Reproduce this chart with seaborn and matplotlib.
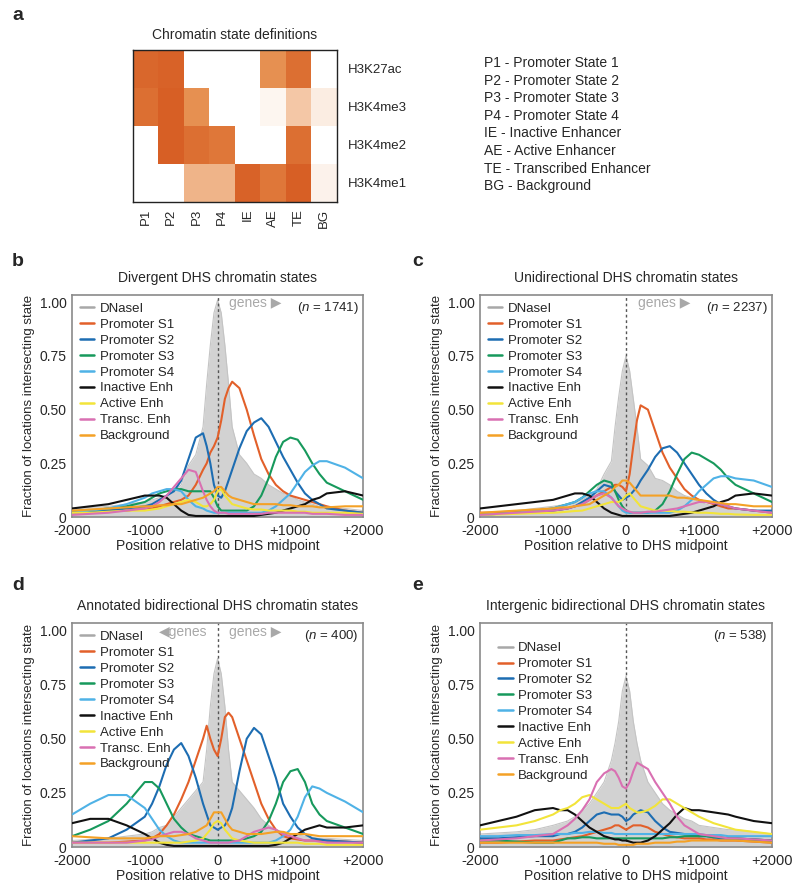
import matplotlib
matplotlib.use("Agg")
import matplotlib.pyplot as plt
import pandas as pd
import seaborn as sns
from matplotlib.colors import LinearSegmentedColormap
from matplotlib.lines import Line2D

# ---- panel a: chromatin state definitions ----
MARKS = ["H3K27ac", "H3K4me3", "H3K4me2", "H3K4me1"]
STATE_CODES = ["P1", "P2", "P3", "P4", "IE", "AE", "TE", "BG"]
STATE_DEFS = [
    "P1 - Promoter State 1",
    "P2 - Promoter State 2",
    "P3 - Promoter State 3",
    "P4 - Promoter State 4",
    "IE - Inactive Enhancer",
    "AE - Active Enhancer",
    "TE - Transcribed Enhancer",
    "BG - Background",
]
H3K27AC = [0.85, 0.88, 0.0, 0.0, 0.0, 0.6, 0.8, 0.0]
H3K4ME3 = [0.8, 0.9, 0.6, 0.0, 0.0, 0.05, 0.3, 0.1]
H3K4ME2 = [0.0, 0.9, 0.8, 0.75, 0.0, 0.0, 0.8, 0.0]
H3K4ME1 = [0.0, 0.0, 0.4, 0.4, 0.88, 0.75, 0.9, 0.07]

# ---- profile panels ----
POSITIONS = [-2000, -1750, -1500, -1250, -1000, -900, -800, -700, -600, -500,
             -400, -300, -200, -150, -100, -50, 0, 50, 100, 150,
             200, 300, 400, 500, 600, 700, 800, 900, 1000, 1100,
             1200, 1300, 1400, 1500, 1750, 2000]
SERIES = ["DNaseI", "Promoter S1", "Promoter S2", "Promoter S3", "Promoter S4",
          "Inactive Enh", "Active Enh", "Transc. Enh", "Background"]
X_TICK_LABELS = ["-2000", "-1000", "0", "+1000", "+2000"]
Y_TICK_LABELS = ["0", "0.25", "0.50", "0.75", "1.00"]

# b - divergent
B_DNASE = [0.04, 0.045, 0.05, 0.06, 0.07, 0.08, 0.09, 0.10, 0.12, 0.15, 0.24, 0.29, 0.42, 0.62, 0.8, 0.95, 1.01, 0.95, 0.8, 0.62,
           0.42, 0.29, 0.25, 0.2, 0.18, 0.15, 0.13, 0.11, 0.1, 0.08, 0.07, 0.06, 0.05, 0.045, 0.04, 0.03]
B_S1 = [0.02, 0.025, 0.03, 0.03, 0.04, 0.04, 0.05, 0.06, 0.07, 0.08, 0.1, 0.15, 0.22, 0.25, 0.3, 0.33, 0.37, 0.45, 0.55, 0.6,
        0.63, 0.6, 0.5, 0.38, 0.27, 0.2, 0.15, 0.12, 0.1, 0.09, 0.08, 0.07, 0.06, 0.05, 0.03, 0.02]
B_S2 = [0.02, 0.025, 0.03, 0.04, 0.05, 0.06, 0.08, 0.1, 0.12, 0.17, 0.27, 0.37, 0.39, 0.33, 0.25, 0.15, 0.1, 0.09, 0.12, 0.17,
        0.22, 0.32, 0.4, 0.44, 0.46, 0.42, 0.35, 0.28, 0.22, 0.16, 0.11, 0.08, 0.06, 0.04, 0.03, 0.02]
B_S3 = [0.02, 0.03, 0.04, 0.05, 0.07, 0.09, 0.11, 0.12, 0.13, 0.13, 0.12, 0.12, 0.12, 0.12, 0.12, 0.09, 0.05, 0.03, 0.03, 0.03,
        0.03, 0.03, 0.03, 0.05, 0.1, 0.18, 0.28, 0.35, 0.37, 0.36, 0.31, 0.25, 0.2, 0.16, 0.12, 0.08]
B_S4 = [0.02, 0.03, 0.04, 0.06, 0.09, 0.11, 0.12, 0.13, 0.13, 0.12, 0.08, 0.05, 0.04, 0.03, 0.025, 0.02, 0.02, 0.02, 0.02, 0.02,
        0.02, 0.02, 0.02, 0.02, 0.02, 0.03, 0.05, 0.08, 0.11, 0.16, 0.21, 0.24, 0.26, 0.26, 0.23, 0.18]
B_INACT = [0.04, 0.05, 0.06, 0.08, 0.1, 0.1, 0.1, 0.09, 0.06, 0.03, 0.01, 0.005, 0.005, 0.005, 0.005, 0.005, 0.005, 0.005, 0.005, 0.005,
           0.005, 0.005, 0.005, 0.005, 0.01, 0.015, 0.02, 0.03, 0.04, 0.05, 0.06, 0.08, 0.09, 0.11, 0.12, 0.1]
B_ACT = [0.02, 0.02, 0.025, 0.03, 0.03, 0.035, 0.04, 0.05, 0.06, 0.07, 0.08, 0.07, 0.05, 0.05, 0.06, 0.08, 0.12, 0.13, 0.1, 0.08,
         0.06, 0.05, 0.04, 0.035, 0.035, 0.03, 0.03, 0.03, 0.03, 0.025, 0.025, 0.02, 0.02, 0.02, 0.02, 0.015]
B_TRANS = [0.01, 0.015, 0.02, 0.03, 0.04, 0.05, 0.07, 0.1, 0.14, 0.18, 0.22, 0.21, 0.12, 0.08, 0.05, 0.03, 0.02, 0.02, 0.02, 0.015,
           0.015, 0.015, 0.015, 0.015, 0.015, 0.02, 0.02, 0.02, 0.02, 0.02, 0.02, 0.015, 0.015, 0.015, 0.01, 0.01]
B_BG = [0.03, 0.035, 0.04, 0.045, 0.05, 0.05, 0.055, 0.055, 0.06, 0.06, 0.07, 0.08, 0.09, 0.1, 0.11, 0.12, 0.14, 0.14, 0.12, 0.1,
        0.09, 0.08, 0.07, 0.06, 0.06, 0.06, 0.06, 0.055, 0.055, 0.05, 0.05, 0.05, 0.045, 0.045, 0.05, 0.05]

# c - unidirectional
C_DNASE = [0.02, 0.025, 0.03, 0.04, 0.05, 0.055, 0.06, 0.07, 0.08, 0.1, 0.13, 0.2, 0.26, 0.42, 0.56, 0.68, 0.75, 0.68, 0.55, 0.42,
           0.27, 0.24, 0.18, 0.17, 0.15, 0.12, 0.1, 0.09, 0.07, 0.06, 0.05, 0.045, 0.04, 0.035, 0.03, 0.02]
C_S1 = [0.02, 0.02, 0.025, 0.03, 0.03, 0.035, 0.04, 0.05, 0.06, 0.08, 0.1, 0.12, 0.14, 0.15, 0.15, 0.14, 0.12, 0.2, 0.33, 0.45,
        0.52, 0.5, 0.4, 0.3, 0.23, 0.18, 0.13, 0.1, 0.08, 0.07, 0.06, 0.05, 0.04, 0.04, 0.03, 0.02]
C_S2 = [0.01, 0.015, 0.02, 0.025, 0.03, 0.035, 0.04, 0.05, 0.07, 0.09, 0.12, 0.15, 0.14, 0.12, 0.1, 0.08, 0.09, 0.1, 0.12, 0.14,
        0.17, 0.22, 0.28, 0.32, 0.33, 0.3, 0.25, 0.2, 0.15, 0.11, 0.08, 0.06, 0.05, 0.04, 0.03, 0.03]
C_S3 = [0.01, 0.015, 0.02, 0.03, 0.04, 0.05, 0.06, 0.07, 0.09, 0.12, 0.15, 0.17, 0.16, 0.12, 0.08, 0.05, 0.03, 0.02, 0.02, 0.02,
        0.02, 0.02, 0.03, 0.06, 0.12, 0.2, 0.27, 0.3, 0.29, 0.27, 0.25, 0.22, 0.18, 0.15, 0.11, 0.07]
C_S4 = [0.01, 0.015, 0.02, 0.03, 0.04, 0.05, 0.06, 0.07, 0.09, 0.11, 0.12, 0.12, 0.09, 0.07, 0.05, 0.03, 0.02, 0.02, 0.02, 0.02,
        0.02, 0.02, 0.02, 0.02, 0.02, 0.03, 0.05, 0.08, 0.12, 0.15, 0.18, 0.19, 0.19, 0.18, 0.17, 0.14]
C_INACT = [0.04, 0.05, 0.06, 0.07, 0.08, 0.09, 0.1, 0.11, 0.11, 0.1, 0.07, 0.04, 0.02, 0.015, 0.01, 0.005, 0.005, 0.005, 0.005, 0.005,
           0.005, 0.005, 0.005, 0.005, 0.005, 0.01, 0.015, 0.02, 0.03, 0.04, 0.05, 0.07, 0.08, 0.1, 0.11, 0.1]
C_ACT = [0.01, 0.012, 0.015, 0.018, 0.02, 0.022, 0.025, 0.028, 0.03, 0.04, 0.05, 0.06, 0.07, 0.07, 0.07, 0.08, 0.1, 0.11, 0.09, 0.07,
         0.05, 0.04, 0.03, 0.03, 0.028, 0.025, 0.025, 0.022, 0.02, 0.02, 0.018, 0.015, 0.015, 0.012, 0.01, 0.01]
C_TRANS = [0.01, 0.015, 0.02, 0.025, 0.03, 0.035, 0.04, 0.05, 0.06, 0.08, 0.1, 0.11, 0.09, 0.07, 0.05, 0.04, 0.03, 0.025, 0.02, 0.02,
           0.02, 0.025, 0.025, 0.03, 0.035, 0.04, 0.05, 0.06, 0.07, 0.07, 0.065, 0.06, 0.05, 0.04, 0.03, 0.02]
C_BG = [0.02, 0.025, 0.03, 0.035, 0.04, 0.045, 0.045, 0.05, 0.055, 0.06, 0.08, 0.1, 0.12, 0.14, 0.15, 0.17, 0.17, 0.16, 0.14, 0.12,
        0.1, 0.1, 0.1, 0.1, 0.1, 0.09, 0.09, 0.085, 0.08, 0.075, 0.07, 0.065, 0.06, 0.06, 0.05, 0.05]

# d - annotated bidirectional
D_DNASE = [0.03, 0.035, 0.04, 0.05, 0.06, 0.07, 0.09, 0.1, 0.14, 0.18, 0.22, 0.26, 0.3, 0.45, 0.65, 0.8, 0.87, 0.8, 0.65, 0.45,
           0.3, 0.26, 0.22, 0.18, 0.13, 0.1, 0.08, 0.07, 0.06, 0.055, 0.05, 0.045, 0.04, 0.04, 0.035, 0.03]
D_S1 = [0.02, 0.02, 0.02, 0.025, 0.03, 0.04, 0.06, 0.1, 0.15, 0.22, 0.3, 0.4, 0.5, 0.56, 0.5, 0.45, 0.42, 0.5, 0.6, 0.62,
        0.6, 0.5, 0.4, 0.3, 0.2, 0.13, 0.08, 0.05, 0.04, 0.035, 0.03, 0.03, 0.03, 0.03, 0.025, 0.02]
D_S2 = [0.02, 0.03, 0.04, 0.08, 0.14, 0.2, 0.28, 0.38, 0.45, 0.48, 0.42, 0.32, 0.2, 0.15, 0.1, 0.09, 0.08, 0.09, 0.1, 0.13,
        0.18, 0.35, 0.5, 0.55, 0.52, 0.42, 0.32, 0.2, 0.14, 0.09, 0.06, 0.04, 0.035, 0.03, 0.025, 0.02]
D_S3 = [0.05, 0.08, 0.12, 0.2, 0.3, 0.3, 0.27, 0.2, 0.13, 0.09, 0.06, 0.05, 0.04, 0.035, 0.03, 0.03, 0.03, 0.03, 0.03, 0.03,
        0.03, 0.03, 0.04, 0.05, 0.07, 0.12, 0.2, 0.3, 0.35, 0.36, 0.3, 0.2, 0.15, 0.12, 0.09, 0.06]
D_S4 = [0.15, 0.2, 0.24, 0.24, 0.18, 0.13, 0.08, 0.05, 0.03, 0.02, 0.02, 0.02, 0.02, 0.02, 0.02, 0.02, 0.02, 0.02, 0.02, 0.02,
        0.02, 0.02, 0.02, 0.02, 0.02, 0.02, 0.03, 0.05, 0.08, 0.14, 0.23, 0.28, 0.27, 0.25, 0.21, 0.16]
D_INACT = [0.11, 0.13, 0.13, 0.1, 0.06, 0.04, 0.02, 0.01, 0.005, 0.005, 0.005, 0.005, 0.005, 0.005, 0.005, 0.005, 0.005, 0.005, 0.005, 0.005,
           0.005, 0.005, 0.005, 0.005, 0.005, 0.005, 0.01, 0.02, 0.04, 0.06, 0.08, 0.09, 0.1, 0.09, 0.09, 0.1]
D_ACT = [0.02, 0.02, 0.02, 0.02, 0.02, 0.02, 0.02, 0.02, 0.02, 0.02, 0.025, 0.03, 0.04, 0.06, 0.08, 0.11, 0.12, 0.11, 0.08, 0.06,
         0.04, 0.03, 0.025, 0.02, 0.02, 0.02, 0.02, 0.02, 0.02, 0.02, 0.015, 0.015, 0.015, 0.01, 0.01, 0.01]
D_TRANS = [0.02, 0.02, 0.02, 0.02, 0.03, 0.035, 0.05, 0.06, 0.07, 0.07, 0.06, 0.04, 0.03, 0.025, 0.02, 0.02, 0.02, 0.02, 0.02, 0.02,
           0.025, 0.03, 0.05, 0.07, 0.08, 0.09, 0.08, 0.06, 0.05, 0.04, 0.03, 0.03, 0.025, 0.02, 0.02, 0.02]
D_BG = [0.05, 0.045, 0.04, 0.04, 0.04, 0.045, 0.05, 0.05, 0.05, 0.055, 0.06, 0.07, 0.09, 0.1, 0.13, 0.16, 0.16, 0.16, 0.13, 0.1,
        0.08, 0.07, 0.06, 0.06, 0.06, 0.065, 0.07, 0.07, 0.06, 0.06, 0.06, 0.055, 0.05, 0.05, 0.05, 0.05]

# e - intergenic bidirectional
E_DNASE = [0.06, 0.065, 0.07, 0.08, 0.1, 0.11, 0.12, 0.14, 0.17, 0.2, 0.25, 0.3, 0.4, 0.48, 0.58, 0.72, 0.79, 0.72, 0.58, 0.48,
           0.4, 0.3, 0.25, 0.2, 0.17, 0.15, 0.13, 0.12, 0.1, 0.095, 0.09, 0.085, 0.08, 0.08, 0.07, 0.06]
E_S1 = [0.02, 0.02, 0.025, 0.03, 0.03, 0.035, 0.04, 0.045, 0.05, 0.06, 0.07, 0.08, 0.09, 0.1, 0.1, 0.09, 0.08, 0.09, 0.1, 0.1,
        0.1, 0.09, 0.07, 0.06, 0.05, 0.045, 0.04, 0.04, 0.04, 0.035, 0.035, 0.03, 0.03, 0.03, 0.025, 0.02]
E_S2 = [0.04, 0.04, 0.045, 0.05, 0.05, 0.06, 0.06, 0.07, 0.09, 0.12, 0.15, 0.16, 0.15, 0.15, 0.15, 0.14, 0.12, 0.13, 0.15, 0.16,
        0.17, 0.16, 0.12, 0.09, 0.07, 0.065, 0.06, 0.055, 0.05, 0.05, 0.045, 0.04, 0.04, 0.04, 0.035, 0.03]
E_S3 = [0.03, 0.03, 0.025, 0.02, 0.02, 0.03, 0.04, 0.04, 0.045, 0.045, 0.04, 0.04, 0.04, 0.04, 0.04, 0.04, 0.04, 0.04, 0.04, 0.04,
        0.04, 0.04, 0.04, 0.04, 0.045, 0.045, 0.05, 0.05, 0.05, 0.05, 0.045, 0.045, 0.04, 0.04, 0.035, 0.03]
E_S4 = [0.05, 0.05, 0.055, 0.055, 0.06, 0.06, 0.06, 0.065, 0.065, 0.07, 0.07, 0.065, 0.065, 0.06, 0.06, 0.06, 0.06, 0.06, 0.06, 0.06,
        0.06, 0.06, 0.06, 0.06, 0.06, 0.06, 0.06, 0.06, 0.06, 0.055, 0.055, 0.055, 0.05, 0.05, 0.05, 0.05]
E_INACT = [0.1, 0.12, 0.14, 0.17, 0.18, 0.17, 0.17, 0.15, 0.12, 0.09, 0.07, 0.05, 0.04, 0.035, 0.035, 0.03, 0.03, 0.025, 0.02, 0.02,
           0.02, 0.03, 0.05, 0.08, 0.11, 0.15, 0.18, 0.17, 0.17, 0.165, 0.16, 0.155, 0.15, 0.14, 0.12, 0.11]
E_ACT = [0.08, 0.09, 0.1, 0.12, 0.15, 0.17, 0.18, 0.2, 0.23, 0.24, 0.22, 0.2, 0.18, 0.18, 0.18, 0.19, 0.2, 0.18, 0.17, 0.16,
         0.16, 0.17, 0.19, 0.22, 0.22, 0.2, 0.18, 0.16, 0.14, 0.125, 0.11, 0.1, 0.09, 0.08, 0.07, 0.06]
E_TRANS = [0.03, 0.035, 0.04, 0.05, 0.06, 0.08, 0.1, 0.13, 0.17, 0.22, 0.3, 0.34, 0.36, 0.35, 0.32, 0.28, 0.27, 0.3, 0.35, 0.39,
           0.38, 0.36, 0.3, 0.25, 0.2, 0.14, 0.1, 0.08, 0.06, 0.055, 0.05, 0.045, 0.04, 0.04, 0.035, 0.03]
E_BG = [0.02, 0.02, 0.02, 0.02, 0.02, 0.02, 0.02, 0.02, 0.02, 0.02, 0.02, 0.015, 0.015, 0.015, 0.01, 0.01, 0.01, 0.01, 0.01, 0.015,
        0.015, 0.015, 0.02, 0.02, 0.02, 0.025, 0.025, 0.03, 0.03, 0.03, 0.03, 0.03, 0.03, 0.03, 0.025, 0.02]

COLORS = {
    "DNaseI": "#c4c4c4",
    "Promoter S1": "#e2602a",
    "Promoter S2": "#1d6db2",
    "Promoter S3": "#17995c",
    "Promoter S4": "#4fb2e6",
    "Inactive Enh": "#111111",
    "Active Enh": "#f2e43a",
    "Transc. Enh": "#d970b2",
    "Background": "#f4a126",
}
LEGEND_COLORS = dict(COLORS, DNaseI="#a8a8a8")

sns.set_theme(style="white")
plt.rcParams["font.family"] = ["Liberation Sans", "DejaVu Sans"]
plt.rcParams["mathtext.fontset"] = "custom"
plt.rcParams["mathtext.it"] = "Liberation Sans:italic"
plt.rcParams["mathtext.rm"] = "Liberation Sans"


def profile_frame(arrays):
    rows = []
    for name, vals in zip(SERIES, arrays):
        for pos, v in zip(POSITIONS, vals):
            rows.append({"pos": pos, "frac": v, "state": name})
    return pd.DataFrame(rows)


def draw_heatmap(ax):
    mat = pd.DataFrame([H3K27AC, H3K4ME3, H3K4ME2, H3K4ME1], index=MARKS, columns=STATE_CODES)
    cmap = LinearSegmentedColormap.from_list("oranges", ["#ffffff", "#f3c3a0", "#e58a48", "#d4571f"])
    sns.heatmap(mat, cmap=cmap, vmin=0, vmax=0.95, cbar=False, linewidths=0, ax=ax)
    ax.yaxis.tick_right()
    ax.tick_params(axis="y", rotation=0, length=0, labelsize=9.5, pad=8)
    ax.tick_params(axis="x", rotation=90, length=0, labelsize=9.5, pad=5)
    for s in ax.spines.values():
        s.set_visible(True)
        s.set_color("#222222")
        s.set_linewidth(1.0)
    ax.set_xlabel("")
    ax.set_ylabel("")
    ax.set_title("Chromatin state definitions", fontsize=10, pad=8)


def draw_profile(ax, df, title, n, arrows, legend_offset=(0.0, 0.0)):
    dn = df[df.state == "DNaseI"]
    ax.fill_between(dn.pos, 0, dn.frac, color="#d2d2d2", lw=0, zorder=1)
    sns.lineplot(data=df[df.state == "DNaseI"], x="pos", y="frac", color=COLORS["DNaseI"],
                 linewidth=0.8, ax=ax, zorder=1.5)
    sns.lineplot(data=df[df.state != "DNaseI"], x="pos", y="frac", hue="state", hue_order=SERIES[1:],
                 palette=COLORS, linewidth=1.5, legend=False, ax=ax, zorder=3)
    ax.axvline(0, color="#555555", lw=1.0, ls=(0, (2, 2)), zorder=2)
    ax.set_xlim(-2000, 2000)
    ax.set_ylim(0, 1.035)
    ax.set_xticks([-2000, -1000, 0, 1000, 2000])
    ax.set_xticklabels(X_TICK_LABELS, fontsize=10.5)
    ax.set_yticks([0, 0.25, 0.5, 0.75, 1.0])
    ax.set_yticklabels(Y_TICK_LABELS, fontsize=10)
    ax.tick_params(axis="y", length=3, width=1, color="#555555", pad=1)
    ax.tick_params(axis="x", length=0, pad=5)
    for s in ax.spines.values():
        s.set_color("#8a8a8a")
        s.set_linewidth(1.2)
    ax.set_xlabel("Position relative to DHS midpoint", fontsize=10, labelpad=1)
    ax.set_ylabel("Fraction of locations intersecting state", fontsize=9.5, labelpad=3)
    ax.set_title(title, fontsize=10, pad=9)
    ax.text(0.985, 0.975, r"($\it{n}$ = %d)" % n, transform=ax.transAxes,
            ha="right", va="top", fontsize=9.5)
    if "right" in arrows:
        ax.text(160, 0.995, "genes \u25b6", color="#a8a8a8", fontsize=10, va="center", ha="left",
                family=["Liberation Sans", "DejaVu Sans"])
    if "left" in arrows:
        ax.text(-140, 0.995, "\u25c0genes", color="#a8a8a8", fontsize=10, va="center", ha="right",
                family=["Liberation Sans", "DejaVu Sans"])
    handles = [Line2D([], [], color=LEGEND_COLORS[s], lw=1.8) for s in SERIES]
    ax.legend(handles, SERIES, loc="upper left", frameon=False, fontsize=9.5,
              handlelength=1.1, handletextpad=0.4, labelspacing=0.28,
              borderaxespad=0.2, bbox_to_anchor=(0.0 + legend_offset[0], 1.0 + legend_offset[1]))


fig = plt.figure(figsize=(8.0, 8.93), dpi=100)

ax_a = fig.add_axes([0.166, 0.774, 0.255, 0.170])
draw_heatmap(ax_a)
for i, line in enumerate(STATE_DEFS):
    fig.text(0.605, 1 - (63 + i * 17.6) / 893, line, fontsize=10, va="center", ha="left")

panels = [
    ([0.090, 0.421, 0.364, 0.249], "Divergent DHS chromatin states", 1741,
     [B_DNASE, B_S1, B_S2, B_S3, B_S4, B_INACT, B_ACT, B_TRANS, B_BG], ["right"], (0.0, 0.0)),
    ([0.600, 0.421, 0.365, 0.249], "Unidirectional DHS chromatin states", 2237,
     [C_DNASE, C_S1, C_S2, C_S3, C_S4, C_INACT, C_ACT, C_TRANS, C_BG], ["right"], (0.0, 0.0)),
    ([0.090, 0.0515, 0.364, 0.251], "Annotated bidirectional DHS chromatin states", 400,
     [D_DNASE, D_S1, D_S2, D_S3, D_S4, D_INACT, D_ACT, D_TRANS, D_BG], ["left", "right"], (0.0, 0.0)),
    ([0.600, 0.0515, 0.365, 0.251], "Intergenic bidirectional DHS chromatin states", 538,
     [E_DNASE, E_S1, E_S2, E_S3, E_S4, E_INACT, E_ACT, E_TRANS, E_BG], [], (0.035, -0.05)),
]
for rect, title, n, arrays, arrows, off in panels:
    ax = fig.add_axes(rect)
    draw_profile(ax, profile_frame(arrays), title, n, arrows, off)

for letter, x, y in [("a", 12, 16), ("b", 12, 262), ("c", 412, 262), ("d", 12, 585), ("e", 412, 585)]:
    fig.text(x / 800, 1 - y / 893, letter, fontsize=14, weight="bold", va="center", ha="left")

fig.savefig("out.png", dpi=100)
